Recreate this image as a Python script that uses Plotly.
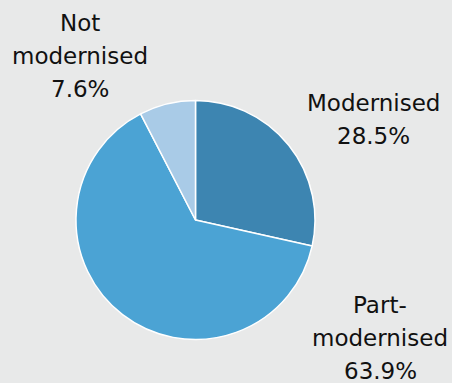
import plotly.graph_objects as go

# Housing stock by modernisation status (share of dwellings, %)
categories = ["Modernised", "Part-modernised", "Not modernised"]
label_lines = [["Modernised"], ["Part-", "modernised"], ["Not", "modernised"]]
shares = [28.5, 63.9, 7.6]
colors = ["#3d85b1", "#4ba3d4", "#a9cbe7"]

W, H = 452, 383
BG = "#e8e9e9"

fig = go.Figure(go.Pie(
    labels=categories,
    values=shares,
    sort=False,
    direction="clockwise",
    rotation=0,
    marker=dict(colors=colors, line=dict(color="white", width=1.5)),
    textinfo="none",
    hoverinfo="label+percent",
    showlegend=False,
    domain=dict(x=[76 / W, 315 / W], y=[1 - 340 / H, 1 - 100 / H]),
))

# Label blocks: centre x and first-line y (pixels), one line every 33 px
label_pos = [(373, 103), (380, 305), (80, 23)]
line_gap = 33
for lines, val, (cx, y0) in zip(label_lines, shares, label_pos):
    for i, txt in enumerate(lines + [f"{val:.1f}%"]):
        fig.add_annotation(
            x=cx / W, y=1 - (y0 + i * line_gap) / H,
            xref="paper", yref="paper",
            xanchor="center", yanchor="middle",
            text=txt, showarrow=False,
            font=dict(family="DejaVu Sans", size=23, color="#111111"),
        )

fig.update_layout(
    width=W, height=H,
    margin=dict(l=0, r=0, t=0, b=0),
    paper_bgcolor=BG, plot_bgcolor=BG,
)

fig.write_html("out.html")
